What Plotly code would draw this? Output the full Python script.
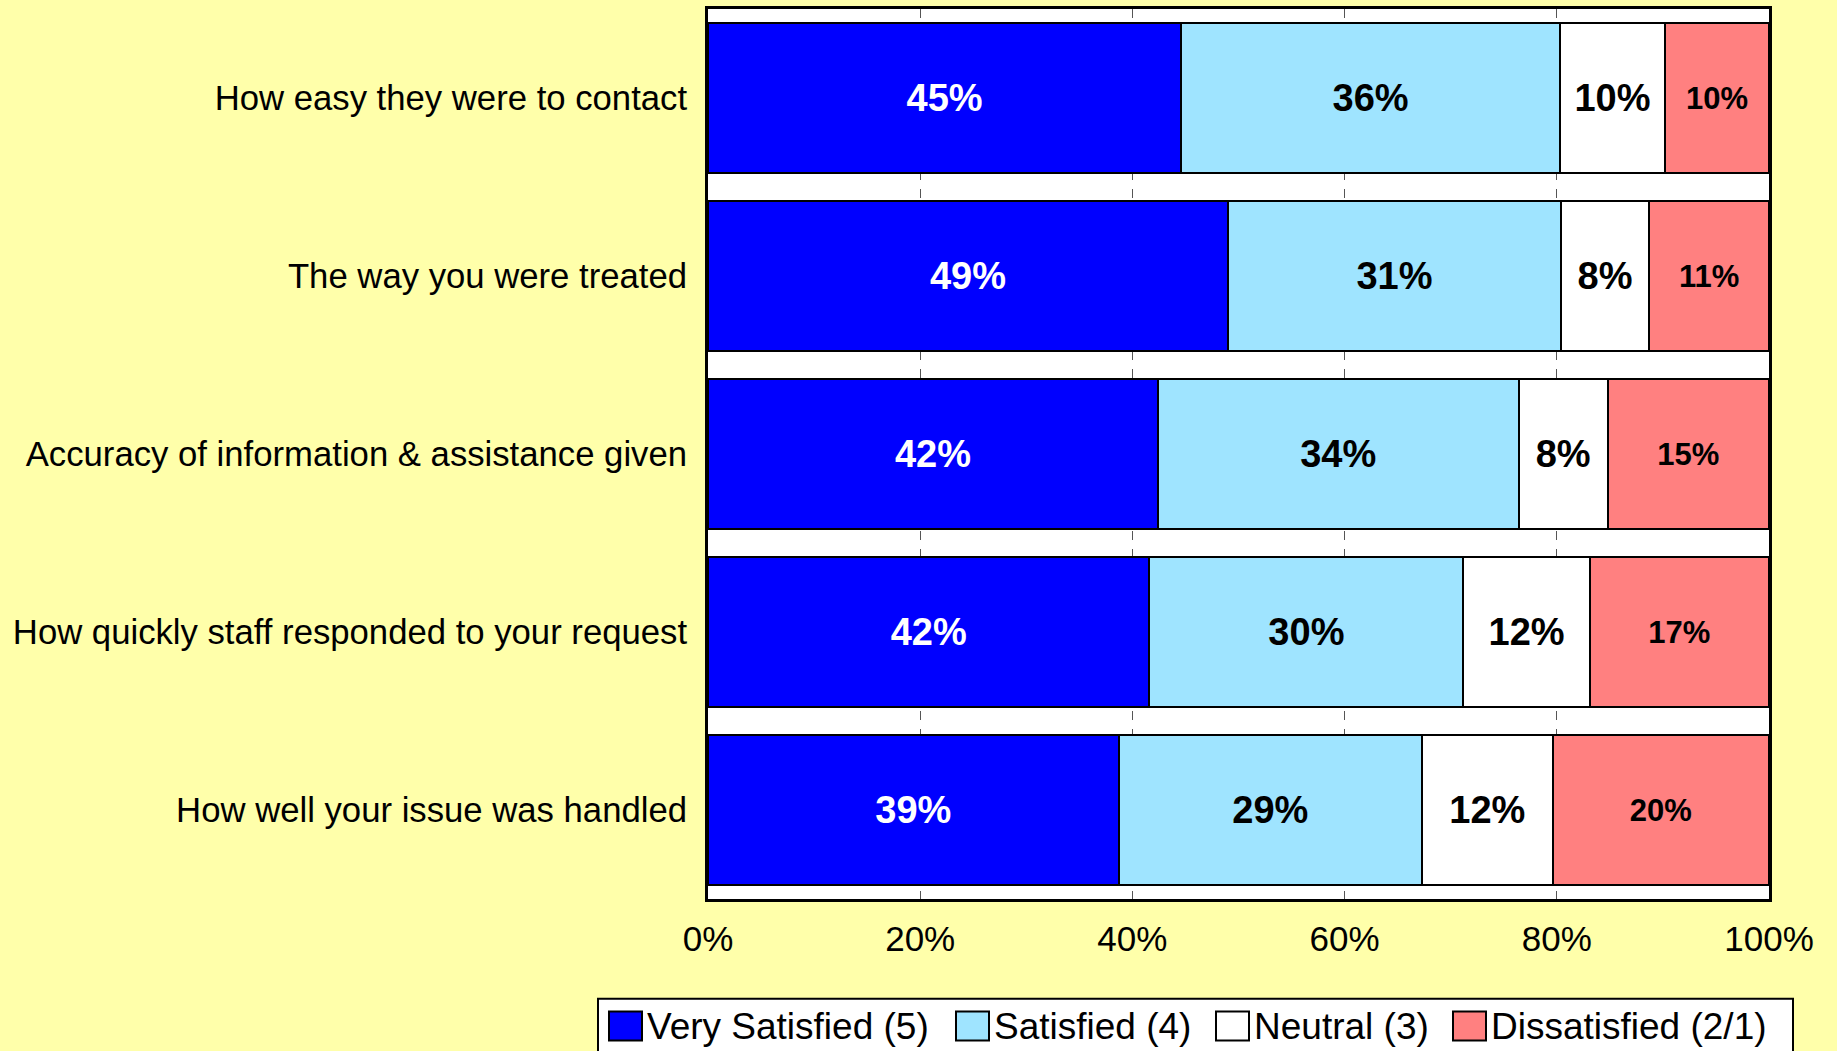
import plotly.graph_objects as go

# Survey items, listed top to bottom
questions = [
    "How easy they were to contact",
    "The way you were treated",
    "Accuracy of information & assistance given",
    "How quickly staff responded to your request",
    "How well your issue was handled",
]

# Share of responses (%) per rating band
very_satisfied = [44.6, 49.0, 42.4, 41.6, 38.7]
satisfied = [35.7, 31.4, 34.0, 29.6, 28.6]
neutral = [9.9, 8.3, 8.4, 11.9, 12.3]
dissatisfied = [9.8, 11.3, 15.2, 16.9, 20.4]

series_names = ["Very Satisfied (5)", "Satisfied (4)", "Neutral (3)", "Dissatisfied (2/1)"]
tick_values = [0, 20, 40, 60, 80, 100]
tick_labels = ["0%", "20%", "40%", "60%", "80%", "100%"]

colors = ["#0000FF", "#9FE4FF", "#FFFFFF", "#FF8080"]
text_colors = ["#FFFFFF", "#000000", "#000000", "#000000"]
text_sizes = [38, 38, 38, 31]

FONT = "Liberation Sans, Arial, sans-serif"

W, H = 1837, 1051
ML, MR, MT, MB = 708, 68, 6, 152
PW, PH = W - ML - MR, H - MT - MB


def px_x(x):
    """Figure pixel column -> paper x."""
    return (x - ML) / PW


def px_y(y):
    """Figure pixel row (from top) -> paper y."""
    return (H - MB - y) / PH


fig = go.Figure()
for name, vals, col, tcol, tsize in zip(
    series_names, [very_satisfied, satisfied, neutral, dissatisfied], colors, text_colors, text_sizes
):
    fig.add_trace(
        go.Bar(
            name=name,
            y=questions,
            x=vals,
            orientation="h",
            marker=dict(color=col, line=dict(color="#000000", width=2)),
            texttemplate="%{x:.0f}%",
            textposition="inside",
            insidetextanchor="middle",
            textangle=0,
            constraintext="none",
            insidetextfont=dict(family=FONT, size=tsize, color=tcol, weight="bold"),
            hoverinfo="skip",
            showlegend=False,
        )
    )

# Legend box along the bottom edge, one swatch + label per series
shapes = [
    dict(
        type="rect", xref="paper", yref="paper",
        x0=px_x(598), x1=px_x(1793), y0=px_y(1070), y1=px_y(999),
        fillcolor="#FFFFFF", line=dict(color="#000000", width=2), layer="above",
    )
]
annotations = []
swatch_left = [609, 956, 1216, 1453]
for name, col, sx in zip(series_names, colors, swatch_left):
    shapes.append(
        dict(
            type="rect", xref="paper", yref="paper",
            x0=px_x(sx), x1=px_x(sx + 33), y0=px_y(1041), y1=px_y(1012),
            fillcolor=col, line=dict(color="#000000", width=2), layer="above",
        )
    )
    annotations.append(
        dict(
            text=name, xref="paper", yref="paper",
            x=px_x(sx + 36), y=px_y(1027), xanchor="left", yanchor="middle",
            showarrow=False, font=dict(family=FONT, size=37, color="#000000"),
        )
    )

fig.update_layout(
    width=W,
    height=H,
    barmode="stack",
    bargap=0.157,
    paper_bgcolor="#FFFFAA",
    plot_bgcolor="#FFFFFF",
    margin=dict(l=ML, r=MR, t=MT, b=MB, pad=0),
    font=dict(family=FONT, color="#000000"),
    showlegend=False,
    shapes=shapes,
    annotations=annotations,
    xaxis=dict(
        range=[0, 100],
        tickvals=tick_values,
        ticktext=tick_labels,
        tickfont=dict(family=FONT, size=35, color="#000000"),
        showgrid=True,
        gridcolor="#555555",
        gridwidth=1,
        griddash="dash",
        showline=True,
        linecolor="#000000",
        linewidth=3,
        mirror=True,
        ticks="",
        ticklabelstandoff=7,
        zeroline=False,
        fixedrange=True,
    ),
    yaxis=dict(
        categoryorder="array",
        categoryarray=questions,
        autorange="reversed",
        tickfont=dict(family=FONT, size=34.7, color="#000000"),
        showline=True,
        linecolor="#000000",
        linewidth=3,
        mirror=True,
        ticks="",
        ticklabelstandoff=11,
        showgrid=False,
        fixedrange=True,
    ),
)

fig.write_html("out.html")
